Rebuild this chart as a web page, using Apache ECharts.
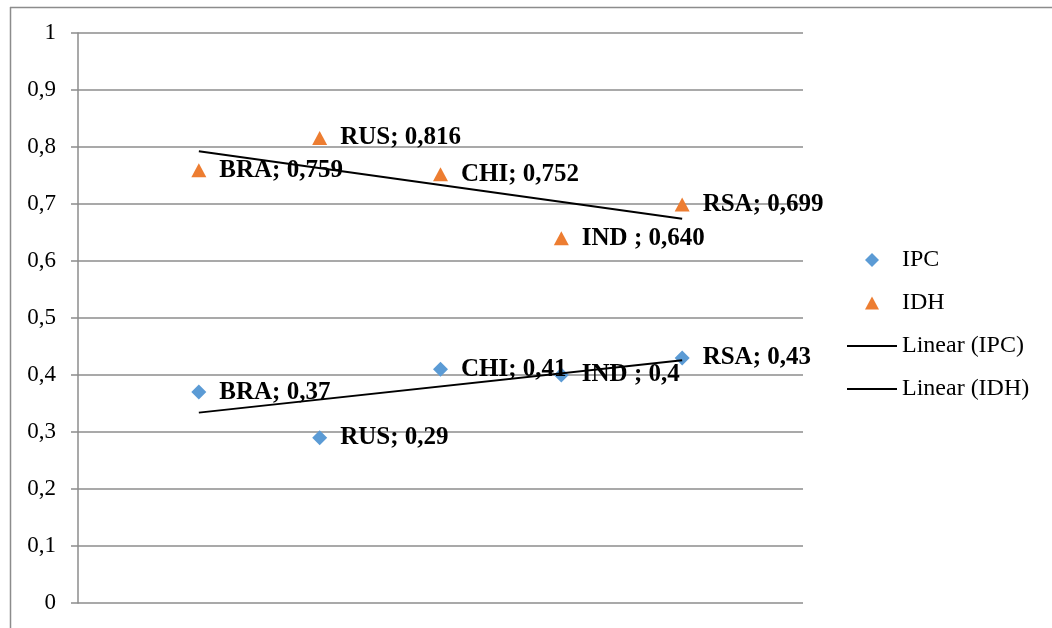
<!DOCTYPE html>
<html>
<head>
<meta charset="utf-8">
<script src="https://cdn.jsdelivr.net/npm/echarts@6/dist/echarts.min.js"></script>
<style>
html,body{margin:0;padding:0;background:#fff;}
#c{width:1052px;height:628px;}
</style>
</head>
<body>
<div id="c"></div>
<script>
// ---- data ----
const countries = ['BRA', 'RUS', 'CHI', 'IND ', 'RSA'];
const xPositions = [1, 2, 3, 4, 5];
const ipcValues = [0.37, 0.29, 0.41, 0.40, 0.43];
const idhValues = [0.759, 0.816, 0.752, 0.640, 0.699];
const yTicks = [0, 0.1, 0.2, 0.3, 0.4, 0.5, 0.6, 0.7, 0.8, 0.9, 1];
const seriesNames = ['IPC', 'IDH', 'Linear (IPC)', 'Linear (IDH)'];

function linearFit(xs, ys) {
  const n = xs.length;
  const mx = xs.reduce((a, b) => a + b, 0) / n;
  const my = ys.reduce((a, b) => a + b, 0) / n;
  let sxy = 0, sxx = 0;
  for (let i = 0; i < n; i++) { sxy += (xs[i] - mx) * (ys[i] - my); sxx += (xs[i] - mx) ** 2; }
  const b = sxy / sxx, a = my - b * mx;
  const x0 = xs[0], x1 = xs[n - 1];
  return [[x0, a + b * x0], [x1, a + b * x1]];
}
const comma = s => s.replace('.', ',');

const font = '"Liberation Serif", "Times New Roman", serif';
const gridColor = '#8c8c8c';

const chart = echarts.init(document.getElementById('c'), null, {renderer: 'canvas'});
const labelStyle = {
  show: true, position: 'right', distance: 13,
  fontFamily: font, fontSize: 25, fontWeight: 'bold', color: '#000'
};
chart.setOption({
  animation: false,
  backgroundColor: '#fff',
  grid: {left: 78, right: 249, top: 33, bottom: 25, containLabel: false},
  xAxis: {type: 'value', min: 0, max: 6, show: false},
  yAxis: {
    type: 'value', min: yTicks[0], max: yTicks[yTicks.length - 1], interval: 0.1,
    axisLine: {show: true, lineStyle: {color: gridColor, width: 1.5}},
    axisTick: {show: true, length: 7, lineStyle: {color: gridColor, width: 1.5}},
    axisLabel: {
      margin: 22, fontFamily: font, fontSize: 23, color: '#000',
      formatter: v => comma(String(+v.toFixed(1)))
    },
    splitLine: {show: true, lineStyle: {color: gridColor, width: 1.5}}
  },
  legend: {
    orient: 'vertical', left: 842, top: 243,
    itemWidth: 50, itemHeight: 16, itemGap: 19,
    textStyle: {fontFamily: font, fontSize: 24, color: '#000', lineHeight: 24},
    data: [
      {name: seriesNames[0], icon: 'path://M0,0M50,16M25,1L32,8L25,15L18,8Z', itemStyle: {opacity: 1}},
      {name: seriesNames[1], icon: 'path://M0,0M50,16M25,1.5L32,14.5L18,14.5Z', itemStyle: {opacity: 1}},
      {name: seriesNames[2], icon: 'path://M0,0M50,16M0,7L50,7L50,9L0,9Z'},
      {name: seriesNames[3], icon: 'path://M0,0M50,16M0,7L50,7L50,9L0,9Z'}
    ]
  },
  graphic: [
    {type: 'line', shape: {x1: 10, y1: 7.5, x2: 1052, y2: 7.5}, style: {stroke: gridColor, lineWidth: 1.5}},
    {type: 'line', shape: {x1: 10.5, y1: 7, x2: 10.5, y2: 628}, style: {stroke: gridColor, lineWidth: 1.5}}
  ],
  series: [
    {
      name: seriesNames[0], type: 'scatter', symbol: 'diamond', symbolSize: 15,
      itemStyle: {color: '#5b9bd5', opacity: 1},
      data: xPositions.map((x, i) => ({value: [x, ipcValues[i]], name: countries[i]})),
      label: Object.assign({}, labelStyle, {formatter: p => p.name + '; ' + comma(String(p.value[1]))})
    },
    {
      name: seriesNames[1], type: 'scatter', symbol: 'triangle', symbolSize: [15, 14],
      itemStyle: {color: '#ed7d31', opacity: 1},
      data: xPositions.map((x, i) => ({value: [x, idhValues[i]], name: countries[i]})),
      label: Object.assign({}, labelStyle, {formatter: p => p.name + '; ' + comma(p.value[1].toFixed(3))})
    },
    {
      name: seriesNames[2], type: 'line', symbol: 'none', z: 5,
      itemStyle: {color: '#000'}, lineStyle: {color: '#000', width: 2},
      data: linearFit(xPositions, ipcValues)
    },
    {
      name: seriesNames[3], type: 'line', symbol: 'none', z: 5,
      itemStyle: {color: '#000'}, lineStyle: {color: '#000', width: 2},
      data: linearFit(xPositions, idhValues)
    }
  ]
});
</script>
</body>
</html>
